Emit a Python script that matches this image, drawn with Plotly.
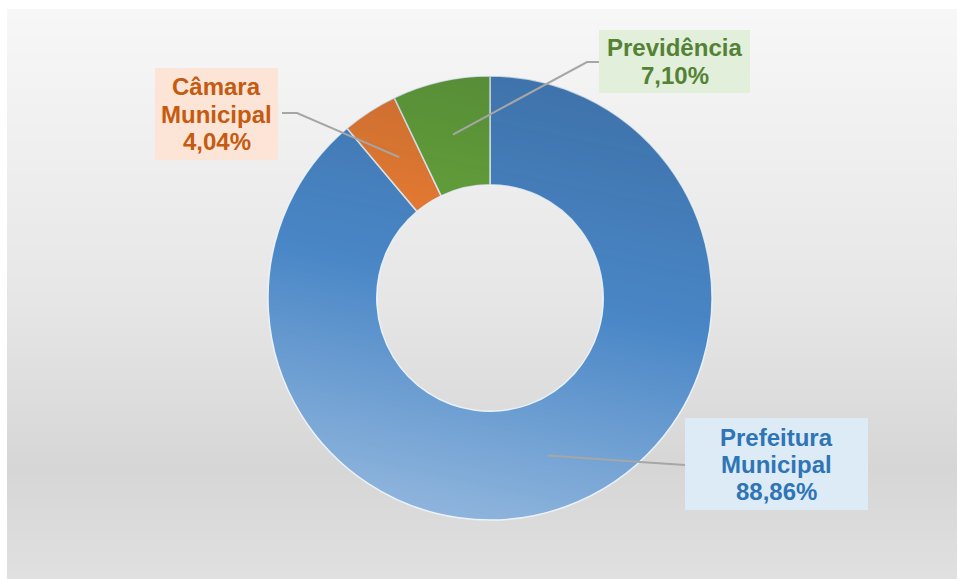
import base64
import math
import struct
import zlib

import numpy as np
import plotly.graph_objects as go

# Participação de cada órgão no total
categorias = ["Prefeitura Municipal", "Câmara Municipal", "Previdência"]
percentuais = [88.86, 4.04, 7.10]
linhas_rotulo = [["Prefeitura", "Municipal"], ["Câmara", "Municipal"], ["Previdência"]]

cores_fatias = ["#4a87c7", "#ee7e32", "#68a63a"]
cores_texto = ["#2e75b6", "#c55a11", "#548235"]
cores_caixa = ["#ddebf7", "#fce4d6", "#e2efda"]

W, H = 958, 579
CX, CY, R_OUT = 490, 298, 222   # centro e raio da rosca, em pixels
HOLE = 0.51

# caixas dos rótulos (x0, y0, x1, y1) e pontos de dobra das linhas guia, em pixels
caixas = [(685, 418, 868, 510), (155, 68, 278, 160), (599, 30, 750, 93)]
dobras = [((640, 462), (685, 465)), ((297, 113), (282, 113)), ((587, 62), (599, 62))]


def px(x):
    return x / W


def py(y):
    return 1 - y / H


def png_data_uri(rgba):
    """Codifica uma matriz RGBA (uint8) como PNG em data URI."""
    h, w, _ = rgba.shape
    raw = b"".join(b"\x00" + rgba[r].tobytes() for r in range(h))

    def chunk(tag, data):
        c = struct.pack(">I", len(data)) + tag + data
        return c + struct.pack(">I", zlib.crc32(tag + data) & 0xFFFFFFFF)

    png = (b"\x89PNG\r\n\x1a\n"
           + chunk(b"IHDR", struct.pack(">IIBBBBB", w, h, 8, 6, 0, 0, 0))
           + chunk(b"IDAT", zlib.compress(raw, 9))
           + chunk(b"IEND", b""))
    return "data:image/png;base64," + base64.b64encode(png).decode()


def sombreado_anel(r_out, r_in):
    """Degradê escuro-em-cima / claro-embaixo recortado no formato do anel."""
    n = 2 * r_out
    c = np.arange(n) + 0.5 - r_out
    dx, dy = np.meshgrid(c, c)
    d = np.hypot(dx, dy)
    cobertura = np.clip(r_out - d + 0.5, 0, 1) * np.clip(d - r_in + 0.5, 0, 1)
    th = math.radians(12)
    u = (-math.sin(th) * dx + math.cos(th) * dy) / r_out
    t = np.clip((u + 1) / 2, 0, 1)
    corte = 0.48
    escuro = t < corte
    a = np.where(escuro, 0.18 * (1 - t / corte), 0.38 * (t - corte) / (1 - corte))
    img = np.zeros((n, n, 4), dtype=np.uint8)
    img[..., 0] = np.where(escuro, 10, 255)
    img[..., 1] = np.where(escuro, 25, 255)
    img[..., 2] = np.where(escuro, 45, 255)
    img[..., 3] = np.round(255 * a * cobertura).astype(np.uint8)
    return img


fig = go.Figure()

fig.add_trace(go.Pie(
    labels=categorias,
    values=percentuais,
    hole=HOLE,
    sort=False,
    direction="clockwise",
    rotation=0,
    textinfo="none",
    hoverinfo="label+percent",
    showlegend=False,
    marker=dict(colors=cores_fatias, line=dict(color="rgba(235,243,251,0.95)", width=1.5)),
    domain=dict(x=[px(CX - R_OUT), px(CX + R_OUT)], y=[py(CY + R_OUT), py(CY - R_OUT)]),
))

shapes = []

# fundo em degradê cinza
paradas_y = [9, 150, 300, 470, 579]
paradas_c = [247, 239, 230, 214, 224]
passo = 3
for y0 in range(9, 579, passo):
    c = int(round(np.interp(y0 + passo / 2, paradas_y, paradas_c)))
    shapes.append(dict(type="rect", xref="paper", yref="paper", layer="below",
                       x0=px(7), x1=px(957), y0=py(min(y0 + passo + 0.5, 579)), y1=py(y0),
                       fillcolor=f"rgb({c},{c},{c})", line=dict(width=0)))

# linhas guia: do meio de cada fatia até a caixa do rótulo
total = sum(percentuais)
r_meio = R_OUT * (1 + HOLE) / 2
acumulado = 0.0
annotations = []
for i, v in enumerate(percentuais):
    ang = math.radians((acumulado + v / 2) / total * 360)
    acumulado += v
    ax = CX + r_meio * math.sin(ang)
    ay = CY - r_meio * math.cos(ang)
    (bx, by), (ex, ey) = dobras[i]
    shapes.append(dict(type="path", xref="paper", yref="paper", layer="above",
                       path=f"M {px(ax)},{py(ay)} L {px(bx)},{py(by)} L {px(ex)},{py(ey)}",
                       line=dict(color="#a6a6a6", width=2)))

    x0, y0, x1, y1 = caixas[i]
    shapes.append(dict(type="rect", xref="paper", yref="paper", layer="above",
                       x0=px(x0), x1=px(x1), y0=py(y1), y1=py(y0),
                       fillcolor=cores_caixa[i], line=dict(width=0)))

    texto = linhas_rotulo[i] + [f"{v:.2f}".replace(".", ",") + "%"]
    cy = (y0 + y1) / 2
    esp = 27
    for k, t in enumerate(texto):
        ly = cy + (k - (len(texto) - 1) / 2) * esp
        annotations.append(dict(x=px((x0 + x1) / 2), y=py(ly), xref="paper", yref="paper",
                                text=f"<b>{t}</b>", showarrow=False,
                                xanchor="center", yanchor="middle",
                                font=dict(family="Liberation Sans, Arial, sans-serif",
                                          size=24, color=cores_texto[i])))

fig.update_layout(
    width=W, height=H,
    margin=dict(l=0, r=0, t=0, b=0),
    paper_bgcolor="white",
    plot_bgcolor="white",
    shapes=shapes,
    annotations=annotations,
    images=[dict(source=png_data_uri(sombreado_anel(R_OUT, int(round(R_OUT * HOLE)))),
                 xref="paper", yref="paper",
                 x=px(CX - R_OUT), y=py(CY - R_OUT),
                 sizex=2 * R_OUT / W, sizey=2 * R_OUT / H,
                 xanchor="left", yanchor="top", sizing="stretch", layer="above")],
)

fig.write_html("out.html")
